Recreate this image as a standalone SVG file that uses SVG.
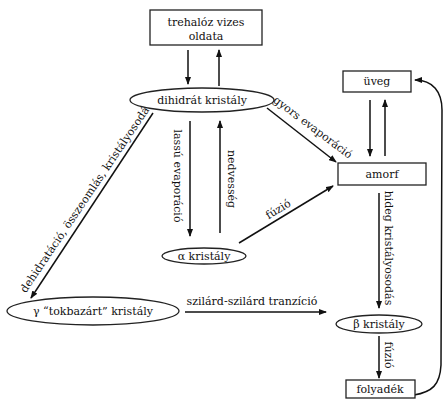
<svg xmlns="http://www.w3.org/2000/svg" width="444" height="399" viewBox="0 0 444 399">
<style>
text{font-family:"DejaVu Serif","Liberation Serif",serif;font-size:11px;fill:#111;}
.n{text-anchor:middle;}
.shape{fill:#fff;stroke:#222;stroke-width:1.3;}
.c{fill:none;stroke:#111;stroke-width:1.5;}
</style>
<defs>
<marker id="ah" markerUnits="userSpaceOnUse" markerWidth="8" markerHeight="6" refX="7" refY="3" orient="auto">
<path d="M0,0 L8,3 L0,6 z" fill="#111"/>
</marker>
</defs>
<g id="connectors">
<line class="c" x1="188" y1="50" x2="188" y2="84" marker-end="url(#ah)"/>
<line class="c" x1="219" y1="86" x2="219" y2="50" marker-end="url(#ah)"/>
<line class="c" x1="190" y1="121" x2="190" y2="236" marker-end="url(#ah)"/>
<line class="c" x1="220" y1="233" x2="220" y2="121" marker-end="url(#ah)"/>
<line class="c" x1="267" y1="108" x2="336" y2="162" marker-end="url(#ah)"/>
<line class="c" x1="239" y1="243" x2="333" y2="186" marker-end="url(#ah)"/>
<line class="c" x1="153" y1="113" x2="31" y2="298" marker-end="url(#ah)"/>
<line class="c" x1="185" y1="312" x2="326" y2="312" marker-end="url(#ah)"/>
<line class="c" x1="370" y1="100" x2="370" y2="156" marker-end="url(#ah)"/>
<line class="c" x1="385" y1="156" x2="385" y2="100" marker-end="url(#ah)"/>
<line class="c" x1="379" y1="193" x2="379" y2="308" marker-end="url(#ah)"/>
<line class="c" x1="379" y1="336" x2="379" y2="378" marker-end="url(#ah)"/>
<path class="c" d="M414,395 C432,392 440,385 441,365 L442,110 C442,92 433,80 415,80" marker-end="url(#ah)"/>
<text class="n" transform="translate(178,176) rotate(90)" y="4">lassú evaporáció</text>
<text class="n" transform="translate(232,179) rotate(90)" y="4">nedvesség</text>
<text class="n" transform="translate(313,127) rotate(37)" y="4">gyors evaporáció</text>
<text class="n" transform="translate(278,209) rotate(-31)" y="4">fúzió</text>
<text class="n" transform="translate(86,197) rotate(-56)" y="4">dehidratáció, összeomlás, kristályosodás</text>
<text class="n" x="252" y="305">szilárd-szilárd tranzíció</text>
<text class="n" transform="translate(389,248) rotate(90)" y="4">hideg kristályosodás</text>
<text class="n" transform="translate(389,355) rotate(90)" y="4">fúzió</text>
</g>
<g id="trehaloz">
<rect class="shape" x="150" y="10" width="112" height="35"/>
<text class="n" x="206" y="26">trehalóz vizes</text>
<text class="n" x="206" y="40">oldata</text>
</g>
<g id="dihidrat">
<ellipse class="shape" cx="202" cy="100" rx="72" ry="12"/>
<text class="n" x="202" y="104">dihidrát kristály</text>
</g>
<g id="alfa">
<ellipse class="shape" cx="204" cy="256" rx="42" ry="8"/>
<text class="n" x="204" y="260">α kristály</text>
</g>
<g id="gamma">
<ellipse class="shape" cx="93" cy="311" rx="86" ry="14"/>
<text class="n" x="93" y="315">γ “tokbazárt” kristály</text>
</g>
<g id="uveg">
<rect class="shape" x="343" y="71" width="68" height="21"/>
<text class="n" x="377" y="85">üveg</text>
</g>
<g id="amorf">
<rect class="shape" x="338" y="163" width="88" height="22"/>
<text class="n" x="382" y="178">amorf</text>
</g>
<g id="beta">
<ellipse class="shape" cx="379" cy="324" rx="43" ry="9"/>
<text class="n" x="379" y="328">β kristály</text>
</g>
<g id="folyadek">
<rect class="shape" x="346" y="380" width="69" height="18"/>
<text class="n" x="380" y="393">folyadék</text>
</g>
</svg>
